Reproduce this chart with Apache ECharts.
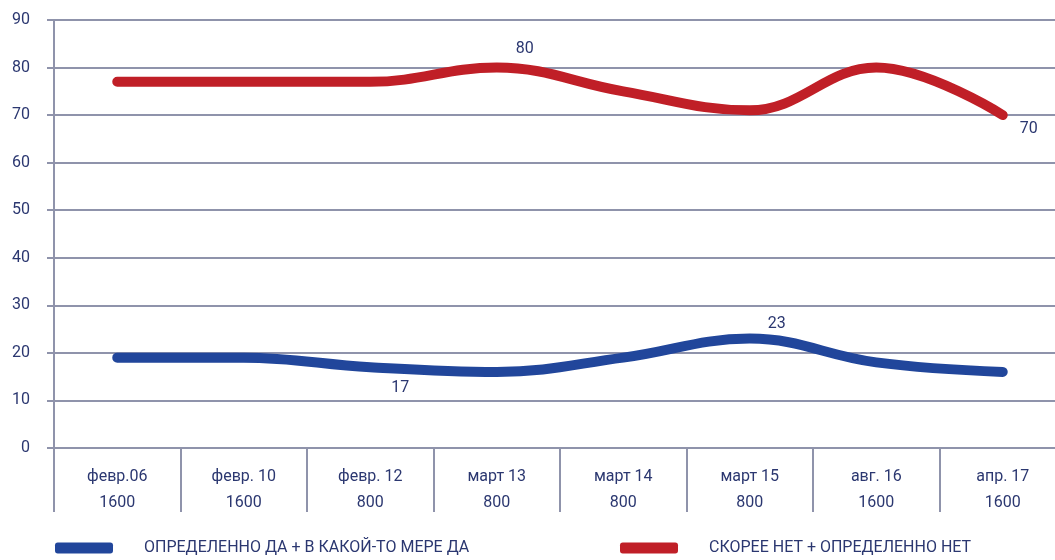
<!DOCTYPE html>
<html><head><meta charset="utf-8">
<script src="https://cdn.jsdelivr.net/npm/echarts@6/dist/echarts.min.js"></script>
<style>html,body{margin:0;padding:0;background:#fff;overflow:hidden}#c{width:1066px;height:560px}</style>
</head><body><div id="c"></div>
<script>
const categories = ['февр.06\n1600','февр. 10\n1600','февр. 12\n800','март 13\n800','март 14\n800','март 15\n800','авг. 16\n1600','апр. 17\n1600'];
const yesValues = [19, 19, 17, 16, 19, 23, 18, 16];
const noValues = [77, 77, 77, 80, 75, 71, 80, 70];
const yesName = 'ОПРЕДЕЛЕННО ДА + В КАКОЙ-ТО МЕРЕ ДА';
const noName = 'СКОРЕЕ НЕТ + ОПРЕДЕЛЕННО НЕТ';
const yesLabelIdx = [2, 5];
const noLabelIdx = [3, 7];

const font = '"Liberation Sans Narrow", "Roboto", sans-serif';
const txt = '#2B3770';
const gridC = '#8F93AB';

function mk(vals, idxs, pos) {
  return vals.map((v, i) => {
    const o = { value: v };
    if (idxs.includes(i)) o.label = Object.assign({ show: true }, pos[i] || {});
    return o;
  });
}

const chart = echarts.init(document.getElementById('c'));
chart.setOption({
  animation: false,
  textStyle: { fontFamily: font },
  grid: { left: 54, right: 0, top: 20, bottom: 112, containLabel: false },
  legend: [
    { data: [yesName], left: 55, top: 540, padding: 0, icon: 'roundRect', itemWidth: 58, itemHeight: 11, selectedMode: false,
      textStyle: { fontFamily: font, fontSize: 16, color: txt, padding: [0, 0, 0, 26] } },
    { data: [noName], left: 620, top: 540, padding: 0, icon: 'roundRect', itemWidth: 58, itemHeight: 11, selectedMode: false,
      textStyle: { fontFamily: font, fontSize: 16, color: txt, padding: [0, 0, 0, 26] } }
  ],
  xAxis: {
    type: 'category', data: categories, boundaryGap: true,
    axisLine: { lineStyle: { color: gridC, width: 2 } },
    axisTick: { show: true, interval: 0, length: 64, lineStyle: { color: gridC, width: 2 } },
    axisLabel: { interval: 0, margin: 16, fontFamily: font, fontSize: 16, color: txt, lineHeight: 26 }
  },
  yAxis: {
    type: 'value', min: 0, max: 90, interval: 10,
    axisLine: { show: true, lineStyle: { color: gridC, width: 2 } },
    axisTick: { show: true, length: 7, lineStyle: { color: gridC, width: 2 } },
    axisLabel: { margin: 24, fontFamily: font, fontSize: 16, color: txt },
    splitLine: { show: true, lineStyle: { color: gridC, width: 2 } }
  },
  series: [
    { name: yesName, type: 'line', smooth: 0.4, symbol: 'circle', symbolSize: 0, showSymbol: true, color: '#21469B',
      lineStyle: { width: 10, color: '#21469B', cap: 'round', join: 'round' },
      label: { show: false, fontFamily: font, fontSize: 16, color: txt },
      data: mk(yesValues, yesLabelIdx, { 2: { position: 'bottom', offset: [30, 8] }, 5: { position: 'top', offset: [27, -2] } }) },
    { name: noName, type: 'line', smooth: 0.4, symbol: 'circle', symbolSize: 0, showSymbol: true, color: '#C01F27',
      lineStyle: { width: 10, color: '#C01F27', cap: 'round', join: 'round' },
      label: { show: false, fontFamily: font, fontSize: 16, color: txt },
      data: mk(noValues, noLabelIdx, { 3: { position: 'top', offset: [28, -6] }, 7: { position: 'right', offset: [12, 14] } }) }
  ]
});
</script></body></html>
